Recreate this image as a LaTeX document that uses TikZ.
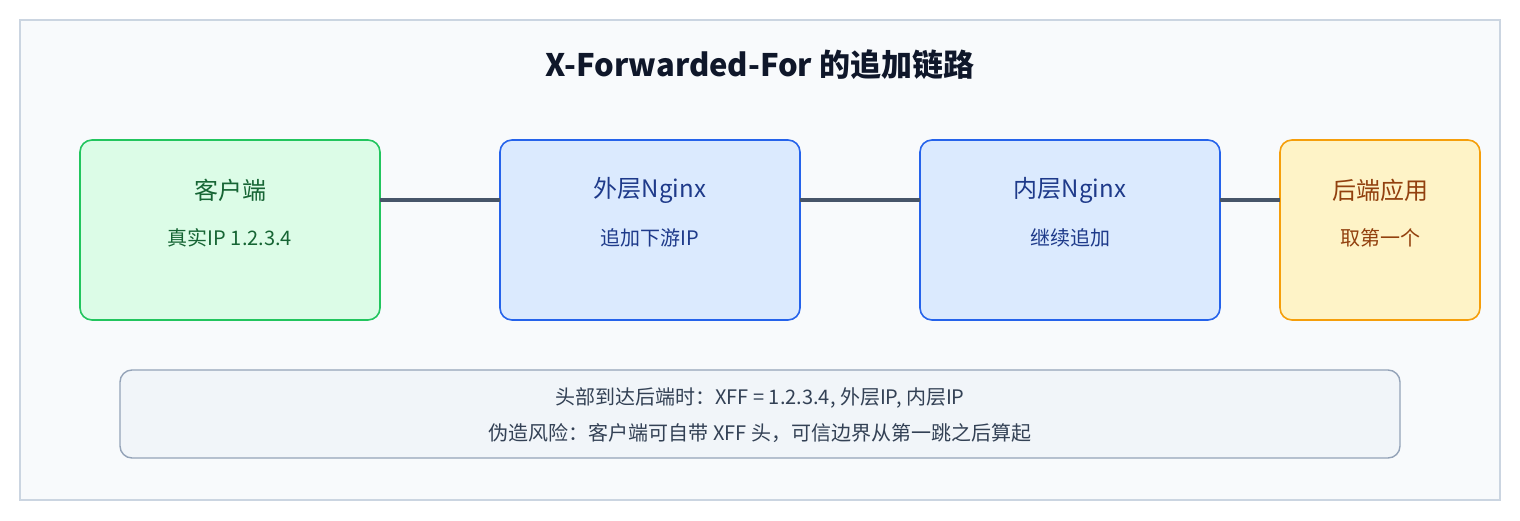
\documentclass[tikz,border=0pt]{standalone}
\usepackage{fontspec}
\setmainfont{Noto Sans CJK SC}
\usetikzlibrary{positioning}
\definecolor{bgfill}{HTML}{F8FAFC}
\definecolor{bgline}{HTML}{CBD5E1}
\definecolor{ttext}{HTML}{0F172A}
\definecolor{gfill}{HTML}{DCFCE7}
\definecolor{gline}{HTML}{22C55E}
\definecolor{gtext}{HTML}{166534}
\definecolor{bfill}{HTML}{DBEAFE}
\definecolor{bline}{HTML}{2563EB}
\definecolor{btext}{HTML}{1E3A8A}
\definecolor{yfill}{HTML}{FEF3C7}
\definecolor{yline}{HTML}{F59E0B}
\definecolor{ytext}{HTML}{92400E}
\definecolor{link}{HTML}{475569}
\definecolor{nfill}{HTML}{F1F5F9}
\definecolor{nline}{HTML}{94A3B8}
\definecolor{ntext}{HTML}{334155}
\tikzset{
  hop/.style={draw,line width=0.8pt,rounded corners=6pt,minimum height=90pt},
  hoptitle/.style={font=\fontsize{12}{14}\selectfont},
  hopsub/.style={font=\fontsize{10}{12}\selectfont},
  link/.style={draw=link,line width=2pt}
}
\begin{document}
\begin{tikzpicture}[x=0.5pt,y=-0.5pt]
  %frame
  \draw[fill=bgfill,draw=bgline,line width=0.6pt] (20,20) rectangle (1500,500);
  \useasboundingbox (0,0) rectangle (1520,520);
  \node[text=ttext] (title) at (760,65) {\fontsize{15.5}{18}\selectfont\bfseries X-Forwarded-For 的追加链路};
  %hops
  \node[hop,fill=gfill,draw=gline,minimum width=150pt] (client) at (230,230) {};
  \node[hop,fill=bfill,draw=bline,minimum width=150pt] (outer) at (650,230) {};
  \node[hop,fill=bfill,draw=bline,minimum width=150pt] (inner) at (1070,230) {};
  \node[hop,fill=yfill,draw=yline,minimum width=100pt] (backend) at (1380,230) {};
  \node[hoptitle,text=gtext] at (230,190) {客户端};
  \node[hopsub,text=gtext] at (230,238) {真实IP 1.2.3.4};
  \node[hoptitle,text=btext] at (650,190) {外层Nginx};
  \node[hopsub,text=btext] at (650,238) {追加下游IP};
  \node[hoptitle,text=btext] at (1070,190) {内层Nginx};
  \node[hopsub,text=btext] at (1070,238) {继续追加};
  \node[hoptitle,text=ytext] at (1380,190) {后端应用};
  \node[hopsub,text=ytext] at (1380,238) {取第一个};
  %links
  \coordinate (c1) at (380,200); \coordinate (o0) at (500,200);
  \coordinate (o1) at (800,200); \coordinate (i0) at (920,200);
  \coordinate (i1) at (1220,200); \coordinate (b0) at (1280,200);
  \draw[link] (c1) -- (o0);
  \draw[link] (o1) -- (i0);
  \draw[link] (i1) -- (b0);
  %note
  \draw[fill=nfill,draw=nline,line width=0.7pt,rounded corners=6pt] (120,370) rectangle (1400,458);
  \node[hopsub,text=ntext] (note1) at (760,398) {头部到达后端时：XFF = 1.2.3.4, 外层IP, 内层IP};
  \node[hopsub,text=ntext] (note2) at (760,433) {伪造风险：客户端可自带 XFF 头，可信边界从第一跳之后算起};
\end{tikzpicture}
\end{document}
